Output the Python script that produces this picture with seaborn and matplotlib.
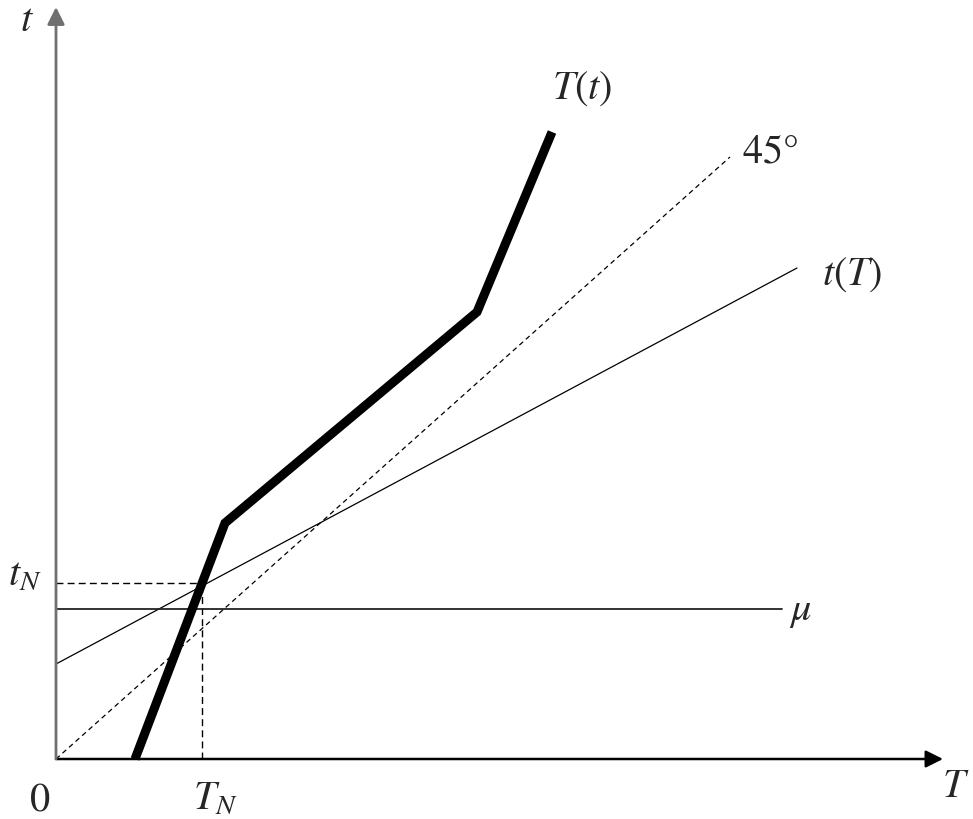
import numpy as np
import pandas as pd
import matplotlib
matplotlib.use("Agg")
import matplotlib.pyplot as plt
import seaborn as sns

# schematic values (origin at 0,0)
Tt_x = [0.79, 1.69, 4.21, 4.96]
Tt_y = [0.0, 2.36, 4.47, 6.27]
deg45_x = [0.0, 6.74]
deg45_y = [0.0, 6.02]
tT_x = [0.0, 7.41]
tT_y = [0.95, 4.91]
mu_x = [0.0, 7.26]
mu_y = [1.50, 1.50]
T_N = 1.46
t_N = 1.76
x_end = 8.87
y_end = 7.52

sns.set_theme(style="white")
plt.rcParams['mathtext.fontset'] = 'stix'
plt.rcParams['font.family'] = ['STIXGeneral', 'DejaVu Serif']

fig = plt.figure(figsize=(9.73, 8.19), dpi=100)
ax = fig.add_axes([0, 0, 1, 1])
ax.set_xlim(-0.56, 9.17)
ax.set_ylim(-0.60, 7.59)
ax.axis('off')

# axes with arrows
ax.annotate('', xy=(x_end, 0), xytext=(0, 0),
            arrowprops=dict(arrowstyle='-|>', color='black', lw=1.8,
                            mutation_scale=26, shrinkA=0, shrinkB=0))
ax.annotate('', xy=(0, y_end), xytext=(0, 0),
            arrowprops=dict(arrowstyle='-|>', color='#707070', lw=2.0,
                            mutation_scale=26, shrinkA=0, shrinkB=0))

# guide lines
ax.plot([0, T_N], [t_N, t_N], color='black', lw=1.0, ls=(0, (5, 3)))
ax.plot([T_N, T_N], [0, t_N], color='black', lw=1.0, ls=(0, (5, 3)))

sns.lineplot(x=deg45_x, y=deg45_y, ax=ax, color='black', lw=0.9,
             linestyle=(0, (4, 3)), sort=False)
sns.lineplot(x=tT_x, y=tT_y, ax=ax, color='black', lw=0.9, sort=False)
sns.lineplot(x=mu_x, y=mu_y, ax=ax, color='#222222', lw=1.3, sort=False)
sns.lineplot(x=Tt_x, y=Tt_y, ax=ax, color='black', lw=6.5, sort=False,
             solid_joinstyle='miter', solid_capstyle='butt')

fs = 29
ax.text(Tt_x[-1] + 0.30, Tt_y[-1] + 0.43, r'$T(t)$', fontsize=fs, ha='center', va='center')
ax.text(deg45_x[-1] + 0.40, deg45_y[-1] + 0.04, r'$45°$', fontsize=fs, ha='center', va='center')
ax.text(tT_x[-1] + 0.55, tT_y[-1] - 0.07, r'$t(T)$', fontsize=fs, ha='center', va='center')
ax.text(mu_x[-1] + 0.18, mu_y[-1] - 0.02, r'$\mu$', fontsize=fs, ha='center', va='center')
ax.text(9.00, -0.28, r'$T$', fontsize=fs, ha='center', va='center')
ax.text(-0.29, 7.38, r'$t$', fontsize=fs, ha='center', va='center')
ax.text(-0.31, t_N + 0.08, r'$t_N$', fontsize=fs, ha='center', va='center')
ax.text(T_N + 0.13, -0.40, r'$T_N$', fontsize=fs, ha='center', va='center')
ax.text(-0.16, -0.42, r'$0$', fontsize=fs, ha='center', va='center')

fig.savefig('out.png', dpi=100, facecolor='white')
